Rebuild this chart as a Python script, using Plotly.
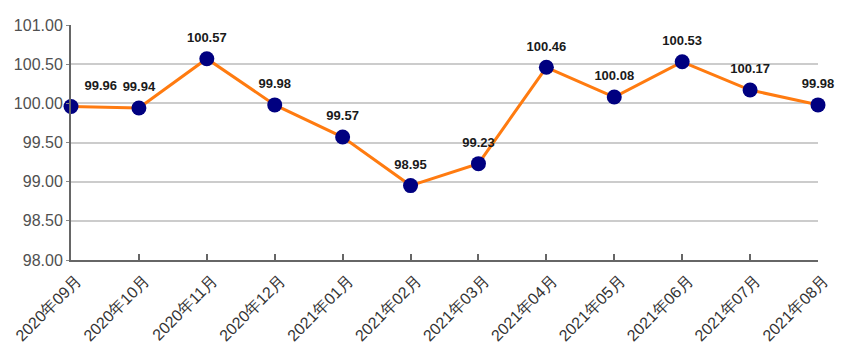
import plotly.graph_objects as go

categories = ["2020年09月", "2020年10月", "2020年11月", "2020年12月", "2021年01月", "2021年02月",
              "2021年03月", "2021年04月", "2021年05月", "2021年06月", "2021年07月", "2021年08月"]
values = [99.96, 99.94, 100.57, 99.98, 99.57, 98.95, 99.23, 100.46, 100.08, 100.53, 100.17, 99.98]
y_ticks = [98.0, 98.5, 99.0, 99.5, 100.0, 100.5, 101.0]

x_idx = list(range(len(categories)))
text_pos = ["top right"] + ["top center"] * (len(values) - 1)

fig = go.Figure()
fig.add_trace(go.Scatter(
    x=x_idx, y=values,
    mode="lines+markers",
    line=dict(color="#FF7B10", width=3),
    marker=dict(color="#000080", size=15),
    cliponaxis=False,
    hoverinfo="skip",
))
fig.add_trace(go.Scatter(
    x=x_idx, y=values,
    mode="markers+text",
    marker=dict(color="rgba(0,0,0,0)", size=20),
    text=[f"{v:.2f}" for v in values],
    textposition=text_pos,
    textfont=dict(family="Liberation Sans, Arial", size=13, color="#1a1a1a", weight="bold"),
    cliponaxis=False,
    hoverinfo="skip",
))

fig.update_layout(
    width=842, height=354,
    margin=dict(l=63, r=32, t=17, b=102),
    paper_bgcolor="white", plot_bgcolor="white",
    showlegend=False,
    font=dict(family="Liberation Sans, Arial", color="#404040"),
)
fig.update_xaxes(
    range=[0, len(categories) - 1],
    tickmode="array", tickvals=x_idx, ticktext=categories,
    tickangle=-45, tickfont=dict(size=16, color="#333333"),
    ticklabelshift=6, ticklabelstandoff=3,
    showgrid=False, showline=True, linecolor="#666666", linewidth=2,
    ticks="inside", ticklen=6, tickcolor="#666666", tickwidth=1.5,
    zeroline=False, automargin=False,
)
fig.update_yaxes(
    range=[98.0, 101.0],
    tickmode="array", tickvals=y_ticks, ticktext=[f"{v:.2f}" for v in y_ticks],
    tickfont=dict(size=16, color="#505050"),
    showgrid=True, gridcolor="#cccccc", gridwidth=1.5,
    showline=True, linecolor="#666666", linewidth=2,
    ticks="outside", ticklen=3, tickcolor="#888888",
    zeroline=False, automargin=False,
)

fig.write_html("out.html")
